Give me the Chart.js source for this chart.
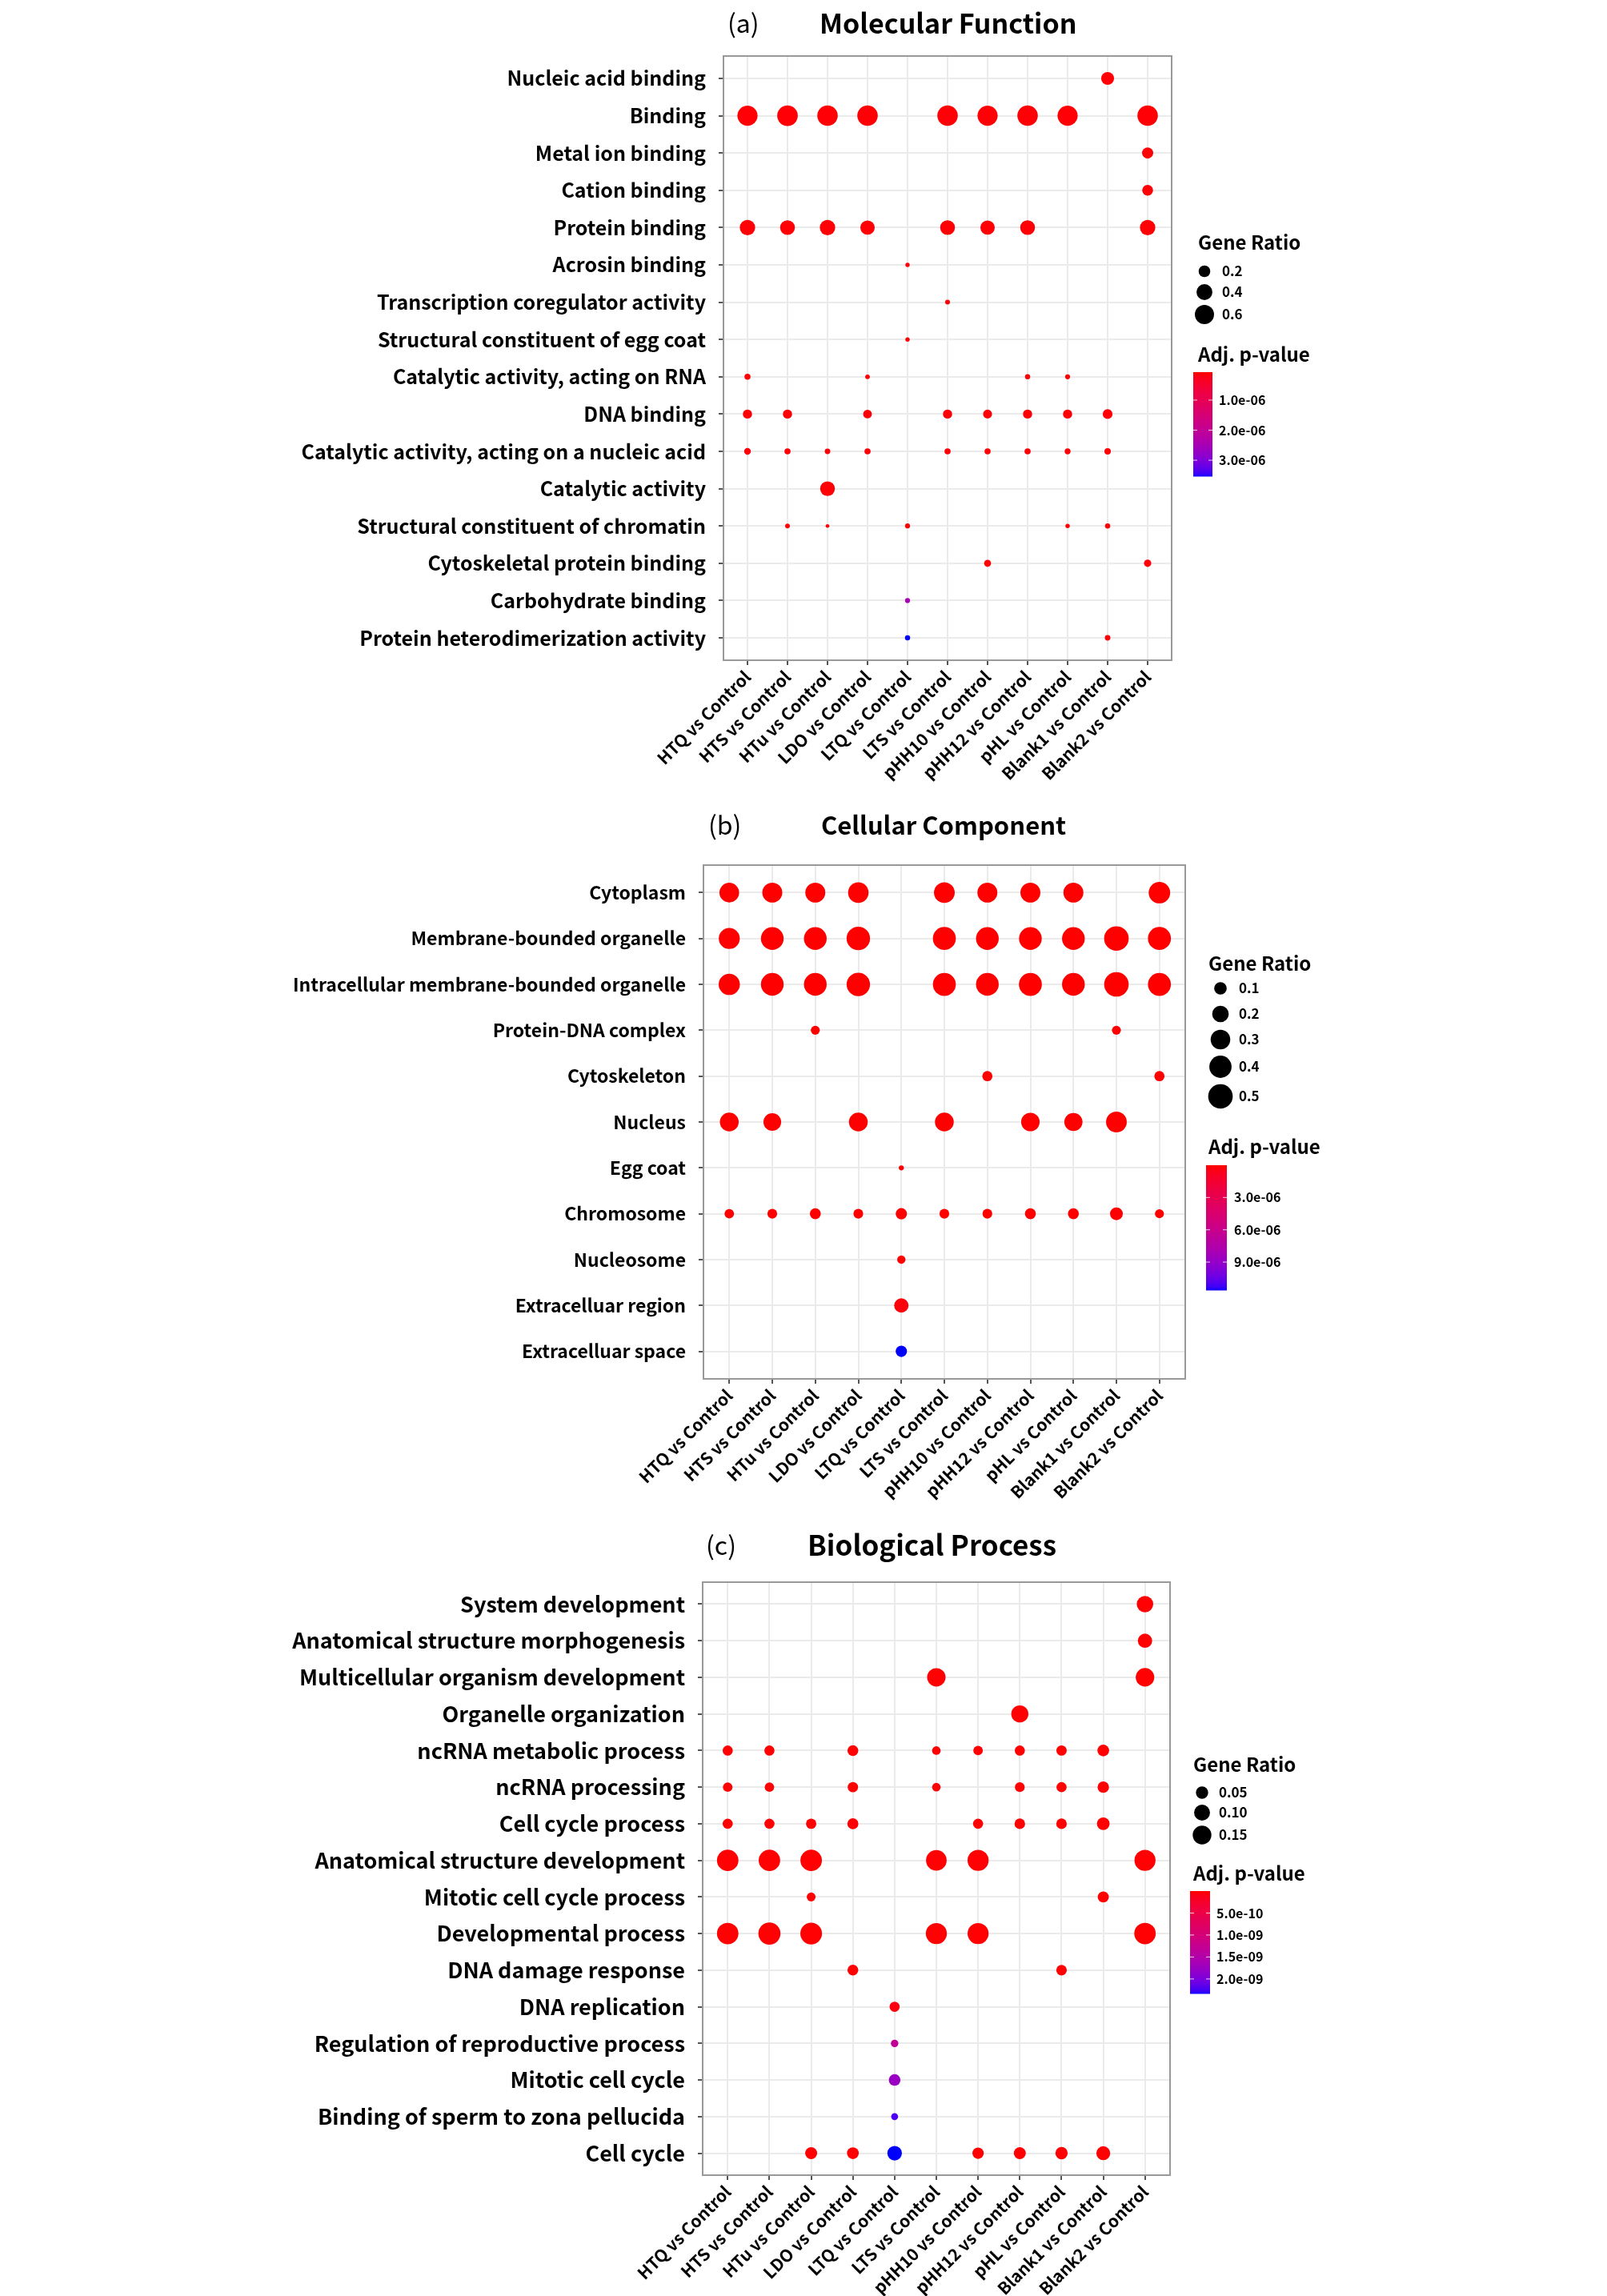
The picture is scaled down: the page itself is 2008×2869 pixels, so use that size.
<!DOCTYPE html>
<html>
<head>
<meta charset="utf-8">
<script src="https://cdn.jsdelivr.net/npm/chart.js@4.4.1/dist/chart.umd.min.js"></script>
<style>
  body { margin: 0; background: #fff; width: 2008px; height: 2869px; position: relative; overflow: hidden; }
  canvas { position: absolute; left: 0; }
</style>
</head>
<body>
<canvas id="mf" width="2008" height="990" style="top:0px;width:2008px;height:990px"></canvas>
<canvas id="cc" width="2008" height="900" style="top:990px;width:2008px;height:900px"></canvas>
<canvas id="bp" width="2008" height="979" style="top:1890px;width:2008px;height:979px"></canvas>
<script>
const _ = null;

// x categories shared by the three panels
const comparisons = ['HTQ vs Control', 'HTS vs Control', 'HTu vs Control', 'LDO vs Control', 'LTQ vs Control',
  'LTS vs Control', 'pHH10 vs Control', 'pHH12 vs Control', 'pHL vs Control', 'Blank1 vs Control', 'Blank2 vs Control'];

// (a) Molecular Function
const mfTerms = ['Nucleic acid binding', 'Binding', 'Metal ion binding', 'Cation binding', 'Protein binding',
  'Acrosin binding', 'Transcription coregulator activity', 'Structural constituent of egg coat',
  'Catalytic activity, acting on RNA', 'DNA binding', 'Catalytic activity, acting on a nucleic acid',
  'Catalytic activity', 'Structural constituent of chromatin', 'Cytoskeletal protein binding',
  'Carbohydrate binding', 'Protein heterodimerization activity'];
const mfRatio = [
  [_, _, _, _, _, _, _, _, _, 0.25, _],
  [0.67, 0.70, 0.69, 0.69, _, 0.69, 0.67, 0.69, 0.67, _, 0.69],
  [_, _, _, _, _, _, _, _, _, _, 0.18],
  [_, _, _, _, _, _, _, _, _, _, 0.17],
  [0.37, 0.34, 0.37, 0.32, _, 0.34, 0.32, 0.34, _, _, 0.37],
  [_, _, _, _, 0.016, _, _, _, _, _, _],
  [_, _, _, _, _, 0.022, _, _, _, _, _],
  [_, _, _, _, 0.016, _, _, _, _, _, _],
  [0.041, _, _, 0.020, _, _, _, 0.027, 0.024, _, _],
  [0.113, 0.113, _, 0.099, _, 0.113, 0.106, 0.113, 0.113, 0.132, _],
  [0.053, 0.042, 0.032, 0.042, _, 0.042, 0.042, 0.042, 0.037, 0.047, _],
  [_, _, 0.34, _, _, _, _, _, _, _, _],
  [_, 0.020, 0.010, _, 0.024, _, _, _, 0.016, 0.027, _],
  [_, _, _, _, _, _, 0.060, _, _, _, 0.067],
  [_, _, _, _, 0.024, _, _, _, _, _, _],
  [_, _, _, _, 0.027, _, _, _, _, 0.032, _]
];
const mfPadj = [
  [_, _, _, _, _, _, _, _, _, 1e-7, _],
  [1e-7, 1e-7, 1e-7, 1e-7, _, 1e-7, 1e-7, 1e-7, 1e-7, _, 1e-7],
  [_, _, _, _, _, _, _, _, _, _, 1e-7],
  [_, _, _, _, _, _, _, _, _, _, 1e-7],
  [1e-7, 1e-7, 1e-7, 1e-7, _, 1e-7, 1e-7, 1e-7, _, _, 1e-7],
  [_, _, _, _, 1e-7, _, _, _, _, _, _],
  [_, _, _, _, _, 1e-7, _, _, _, _, _],
  [_, _, _, _, 1e-7, _, _, _, _, _, _],
  [1e-7, _, _, 1e-7, _, _, _, 1e-7, 1e-7, _, _],
  [1e-7, 1e-7, _, 1e-7, _, 1e-7, 1e-7, 1e-7, 1e-7, 1e-7, _],
  [1e-7, 1e-7, 1e-7, 1e-7, _, 1e-7, 1e-7, 1e-7, 1e-7, 1e-7, _],
  [_, _, 1e-7, _, _, _, _, _, _, _, _],
  [_, 1e-7, 1e-7, _, 1e-7, _, _, _, 1e-7, 1e-7, _],
  [_, _, _, _, _, _, 1e-7, _, _, _, 1e-7],
  [_, _, _, _, 2.45e-6, _, _, _, _, _, _],
  [_, _, _, _, 3.53e-6, _, _, _, _, 1e-7, _]
];
const mfSizeBreaks = [0.2, 0.4, 0.6];
const mfPTicks = [1e-6, 2e-6, 3e-6];

// (b) Cellular Component
const ccTerms = ['Cytoplasm', 'Membrane-bounded organelle', 'Intracellular membrane-bounded organelle',
  'Protein-DNA complex', 'Cytoskeleton', 'Nucleus', 'Egg coat', 'Chromosome', 'Nucleosome',
  'Extracelluar region', 'Extracelluar space'];
const ccRatio = [
  [0.30, 0.31, 0.31, 0.33, _, 0.34, 0.31, 0.31, 0.31, _, 0.37],
  [0.35, 0.42, 0.42, 0.45, _, 0.43, 0.42, 0.42, 0.42, 0.50, 0.43],
  [0.36, 0.42, 0.42, 0.45, _, 0.43, 0.42, 0.43, 0.42, 0.50, 0.43],
  [_, _, 0.040, _, _, _, _, _, _, 0.040, _],
  [_, _, _, _, _, _, 0.057, _, _, _, 0.057],
  [0.27, 0.235, _, 0.27, _, 0.27, _, 0.26, 0.25, 0.34, _],
  [_, _, _, _, 0.005, _, _, _, _, _, _],
  [0.047, 0.050, 0.069, 0.050, 0.076, 0.050, 0.050, 0.069, 0.069, 0.105, 0.040],
  [_, _, _, _, 0.031, _, _, _, _, _, _],
  [_, _, _, _, 0.14, _, _, _, _, _, _],
  [_, _, _, _, 0.076, _, _, _, _, _, _]
];
const ccPadj = [
  [1e-8, 1e-8, 1e-8, 1e-8, _, 1e-8, 1e-8, 1e-8, 1e-8, _, 1e-8],
  [1e-8, 1e-8, 1e-8, 1e-8, _, 1e-8, 1e-8, 1e-8, 1e-8, 1e-8, 1e-8],
  [1e-8, 1e-8, 1e-8, 1e-8, _, 1e-8, 1e-8, 1e-8, 1e-8, 1e-8, 1e-8],
  [_, _, 1e-8, _, _, _, _, _, _, 1e-8, _],
  [_, _, _, _, _, _, 1e-8, _, _, _, 1e-8],
  [1e-8, 1e-8, _, 1e-8, _, 1e-8, _, 1e-8, 1e-8, 1e-8, _],
  [_, _, _, _, 1e-8, _, _, _, _, _, _],
  [1e-8, 1e-8, 1e-8, 1e-8, 1e-8, 1e-8, 1e-8, 1e-8, 1e-8, 1e-8, 1e-8],
  [_, _, _, _, 1e-8, _, _, _, _, _, _],
  [_, _, _, _, 2e-7, _, _, _, _, _, _],
  [_, _, _, _, 1.16e-5, _, _, _, _, _, _]
];
const ccSizeBreaks = [0.1, 0.2, 0.3, 0.4, 0.5];
const ccPTicks = [3e-6, 6e-6, 9e-6];

// (c) Biological Process
const bpTerms = ['System development', 'Anatomical structure morphogenesis', 'Multicellular organism development',
  'Organelle organization', 'ncRNA metabolic process', 'ncRNA processing', 'Cell cycle process',
  'Anatomical structure development', 'Mitotic cell cycle process', 'Developmental process',
  'DNA damage response', 'DNA replication', 'Regulation of reproductive process', 'Mitotic cell cycle',
  'Binding of sperm to zona pellucida', 'Cell cycle'];
const bpRatio = [
  [_, _, _, _, _, _, _, _, _, _, 0.109],
  [_, _, _, _, _, _, _, _, _, _, 0.075],
  [_, _, _, _, _, 0.144, _, _, _, _, 0.146],
  [_, _, _, _, _, _, _, 0.12, _, _, _],
  [0.028, 0.028, _, 0.034, _, 0.016, 0.023, 0.028, 0.030, 0.043, _],
  [0.023, 0.022, _, 0.030, _, 0.016, _, 0.025, 0.028, 0.040, _],
  [0.028, 0.028, 0.030, 0.036, _, _, 0.028, 0.032, 0.032, 0.054, _],
  [0.21, 0.21, 0.21, _, _, 0.19, 0.20, _, _, _, 0.20],
  [_, _, 0.018, _, _, _, _, _, _, 0.037, _],
  [0.21, 0.225, 0.215, _, _, 0.20, 0.20, _, _, _, 0.21],
  [_, _, _, 0.034, _, _, _, _, 0.032, _, _],
  [_, _, _, _, 0.028, _, _, _, _, _, _],
  [_, _, _, _, 0.010, _, _, _, _, _, _],
  [_, _, _, _, 0.043, _, _, _, _, _, _],
  [_, _, _, _, 0.0075, _, _, _, _, _, _],
  [_, _, 0.046, 0.044, 0.079, _, 0.040, 0.046, 0.050, 0.070, _]
];
const bpPadj = [
  [_, _, _, _, _, _, _, _, _, _, 1e-11],
  [_, _, _, _, _, _, _, _, _, _, 1e-11],
  [_, _, _, _, _, 1e-11, _, _, _, _, 1e-11],
  [_, _, _, _, _, _, _, 1e-11, _, _, _],
  [1e-11, 1e-11, _, 1e-11, _, 1e-11, 1e-11, 1e-11, 1e-11, 1e-11, _],
  [1e-11, 1e-11, _, 1e-11, _, 1e-11, _, 1e-11, 1e-11, 1e-11, _],
  [1e-11, 1e-11, 1e-11, 1e-11, _, _, 1e-11, 1e-11, 1e-11, 1e-11, _],
  [1e-11, 1e-11, 1e-11, _, _, 1e-11, 1e-11, _, _, _, 1e-11],
  [_, _, 1e-11, _, _, _, _, _, _, 1e-11, _],
  [1e-11, 1e-11, 1e-11, _, _, 1e-11, 1e-11, _, _, _, 1e-11],
  [_, _, _, 1e-11, _, _, _, _, 1e-11, _, _],
  [_, _, _, _, 5e-11, _, _, _, _, _, _],
  [_, _, _, _, 1.3e-9, _, _, _, _, _, _],
  [_, _, _, _, 1.75e-9, _, _, _, _, _, _],
  [_, _, _, _, 2.2e-9, _, _, _, _, _, _],
  [_, _, 1e-11, 1e-11, 2.33e-9, _, 1e-11, 1e-11, 1e-11, 1e-11, _]
];
const bpSizeBreaks = [0.05, 0.10, 0.15];
const bpPTicks = [5e-10, 1e-9, 1.5e-9, 2e-9];

const FONT = '"Noto Sans CJK KR", "Noto Sans", sans-serif';
Chart.defaults.font.family = FONT;
Chart.defaults.color = '#000';

// red -> blue gradient interpolated in Lab, like ggplot's scale_colour_gradient
function toLin(c) { c /= 255; return c <= 0.04045 ? c / 12.92 : Math.pow((c + 0.055) / 1.055, 2.4); }
function toSrgb(c) {
  const v = c <= 0.0031308 ? 12.92 * c : 1.055 * Math.pow(c, 1 / 2.4) - 0.055;
  return Math.round(Math.max(0, Math.min(1, v)) * 255);
}
function rgbToLab(rgb) {
  const [r, g, b] = rgb.map(toLin);
  const x = (0.4124 * r + 0.3576 * g + 0.1805 * b) / 0.95047;
  const y = 0.2126 * r + 0.7152 * g + 0.0722 * b;
  const z = (0.0193 * r + 0.1192 * g + 0.9505 * b) / 1.08883;
  const f = t => t > 0.008856 ? Math.cbrt(t) : 7.787 * t + 16 / 116;
  return [116 * f(y) - 16, 500 * (f(x) - f(y)), 200 * (f(y) - f(z))];
}
function labToRgb([L, A, B]) {
  const fy = (L + 16) / 116, fx = fy + A / 500, fz = fy - B / 200;
  const inv = t => t ** 3 > 0.008856 ? t ** 3 : (t - 16 / 116) / 7.787;
  const x = inv(fx) * 0.95047, y = inv(fy), z = inv(fz) * 1.08883;
  const r = 3.2406 * x - 1.5372 * y - 0.4986 * z;
  const g = -0.9689 * x + 1.8758 * y + 0.0415 * z;
  const b = 0.0557 * x - 0.2040 * y + 1.0570 * z;
  return `rgb(${toSrgb(r)},${toSrgb(g)},${toSrgb(b)})`;
}
const LAB_LOW = rgbToLab([255, 0, 0]);
const LAB_HIGH = rgbToLab([0, 0, 255]);
function pColor(p, range) {
  const t = Math.max(0, Math.min(1, (p - range[0]) / (range[1] - range[0])));
  return labToRgb(LAB_LOW.map((v, i) => v + (LAB_HIGH[i] - v) * t));
}
function fmtExp(v) { return v.toExponential(1).replace(/e([+-])(\d)$/, 'e$10$2'); }

const panels = [
  { id: 'mf', top: 0, height: 990, tag: '(a)', title: 'Molecular Function', tagX: 909, titleX: 1024, titleY: 29,
    titleSize: 34, labelSize: 25,
    terms: mfTerms, ratio: mfRatio, padj: mfPadj, pRange: [7e-8, 3.53e-6], pTicks: mfPTicks,
    area: { left: 904, right: 1464, top: 70, bottom: 825 },
    size: v => 0.9 + 14.3 * Math.sqrt(v), sizeBreaks: mfSizeBreaks, sizeDigits: 1,
    legendX: 1497, sizeTitleY: 303, keyX: 1505, keyY: [339, 365, 393], keyLabelX: 1527,
    colorTitleY: 443, bar: { x: 1491, w: 24, top: 465, bottom: 595 }, barLabelX: 1523 },
  { id: 'cc', top: 990, height: 900, tag: '(b)', title: 'Cellular Component', tagX: 885, titleX: 1026, titleY: 1031,
    titleSize: 31, labelSize: 23,
    terms: ccTerms, ratio: ccRatio, padj: ccPadj, pRange: [0, 1.16e-5], pTicks: ccPTicks,
    area: { left: 879, right: 1481, top: 1081, bottom: 1723 },
    size: v => 1.12 * (1.6 + 17.1 * Math.sqrt(v)), sizeBreaks: ccSizeBreaks, sizeDigits: 1,
    legendX: 1510, sizeTitleY: 1204, keyX: 1525, keyY: [1235, 1267, 1299, 1333, 1370], keyLabelX: 1548,
    colorTitleY: 1433, bar: { x: 1507, w: 26, top: 1456, bottom: 1612 }, barLabelX: 1542 },
  { id: 'bp', top: 1890, height: 979, tag: '(c)', title: 'Biological Process', tagX: 882, titleX: 1009, titleY: 1931,
    titleSize: 35, labelSize: 27,
    terms: bpTerms, ratio: bpRatio, padj: bpPadj, pRange: [0, 2.33e-9], pTicks: bpPTicks,
    area: { left: 878, right: 1462, top: 1977, bottom: 2718 },
    size: v => 2.24 + 24.4 * Math.sqrt(v), sizeBreaks: bpSizeBreaks, sizeDigits: 2,
    legendX: 1491, sizeTitleY: 2205, keyX: 1502, keyY: [2240, 2265, 2293], keyLabelX: 1523,
    colorTitleY: 2341, bar: { x: 1487, w: 25, top: 2363, bottom: 2491 }, barLabelX: 1520 }
];

// frame, titles, size legend and colour bar
function decor(cfg) {
  return {
    id: 'decor_' + cfg.id,
    afterDraw(chart) {
      const ctx = chart.ctx, a = chart.chartArea, oy = cfg.top;
      ctx.save();
      ctx.strokeStyle = '#999';
      ctx.lineWidth = 2;
      ctx.strokeRect(a.left, a.top, a.right - a.left, a.bottom - a.top);

      ctx.fillStyle = '#000';
      ctx.textBaseline = 'middle';
      ctx.textAlign = 'left';
      ctx.font = `32px ${FONT}`;
      ctx.fillText(cfg.tag, cfg.tagX, cfg.titleY - oy);
      ctx.font = `bold ${cfg.titleSize}px ${FONT}`;
      ctx.fillText(cfg.title, cfg.titleX, cfg.titleY - oy);

      ctx.font = `bold 24px ${FONT}`;
      ctx.fillText('Gene Ratio', cfg.legendX, cfg.sizeTitleY - oy);
      ctx.font = `bold 17px ${FONT}`;
      cfg.sizeBreaks.forEach((v, i) => {
        ctx.beginPath();
        ctx.arc(cfg.keyX, cfg.keyY[i] - oy, cfg.size(v), 0, Math.PI * 2);
        ctx.fill();
        ctx.fillText(v.toFixed(cfg.sizeDigits), cfg.keyLabelX, cfg.keyY[i] - oy);
      });

      ctx.font = `bold 24px ${FONT}`;
      ctx.fillText('Adj. p-value', cfg.legendX, cfg.colorTitleY - oy);
      const b = cfg.bar, h = b.bottom - b.top;
      for (let i = 0; i < h; i++) {
        const p = cfg.pRange[0] + (cfg.pRange[1] - cfg.pRange[0]) * i / h;
        ctx.fillStyle = pColor(p, cfg.pRange);
        ctx.fillRect(b.x, b.top - oy + i, b.w, 1.5);
      }
      ctx.font = `bold 16px ${FONT}`;
      cfg.pTicks.forEach(v => {
        const y = b.top - oy + (v - cfg.pRange[0]) / (cfg.pRange[1] - cfg.pRange[0]) * h;
        ctx.strokeStyle = 'rgba(255,255,255,0.8)';
        ctx.lineWidth = 1;
        ctx.beginPath();
        ctx.moveTo(b.x, y); ctx.lineTo(b.x + 5, y);
        ctx.moveTo(b.x + b.w - 5, y); ctx.lineTo(b.x + b.w, y);
        ctx.stroke();
        ctx.fillStyle = '#000';
        ctx.fillText(fmtExp(v), cfg.barLabelX, y);
      });
      ctx.restore();
    }
  };
}

panels.forEach(cfg => {
  const points = [];
  cfg.terms.forEach((term, i) => {
    comparisons.forEach((c, j) => {
      const v = cfg.ratio[i][j];
      if (v === null) return;
      points.push({ x: j, y: i, r: cfg.size(v), p: cfg.padj[i][j] });
    });
  });
  const n = cfg.terms.length;
  const a = cfg.area;

  new Chart(document.getElementById(cfg.id), {
    type: 'bubble',
    data: {
      datasets: [{
        data: points,
        backgroundColor: ctx => pColor(ctx.raw.p, cfg.pRange),
        borderWidth: 0
      }]
    },
    options: {
      responsive: false,
      devicePixelRatio: 1,
      animation: false,
      layout: { padding: { left: 0, top: a.top - cfg.top, right: 2008 - a.right, bottom: 0 } },
      plugins: { legend: { display: false }, tooltip: { enabled: false } },
      scales: {
        x: {
          type: 'linear',
          min: -0.6,
          max: comparisons.length - 0.4,
          afterBuildTicks: s => { s.ticks = comparisons.map((c, i) => ({ value: i })); },
          afterFit: s => { s.height = cfg.height - (a.bottom - cfg.top); },
          ticks: {
            autoSkip: false, minRotation: 45, maxRotation: 45, padding: 2,
            callback: v => comparisons[v],
            font: { size: 21, weight: 'bold' }, color: '#000'
          },
          grid: { color: '#ebebeb', lineWidth: 2, tickColor: '#555', tickLength: 6 },
          border: { display: false }
        },
        y: {
          type: 'linear',
          reverse: true,
          min: -0.6,
          max: n - 0.4,
          afterBuildTicks: s => { s.ticks = cfg.terms.map((t, i) => ({ value: i })); },
          afterFit: s => { s.width = a.left; },
          ticks: {
            autoSkip: false, padding: 16,
            callback: v => cfg.terms[v],
            font: { size: cfg.labelSize, weight: 'bold' }, color: '#000'
          },
          grid: { color: '#ebebeb', lineWidth: 2, tickColor: '#555', tickLength: 6 },
          border: { display: false }
        }
      }
    },
    plugins: [decor(cfg)]
  });
});
</script>
</body>
</html>
